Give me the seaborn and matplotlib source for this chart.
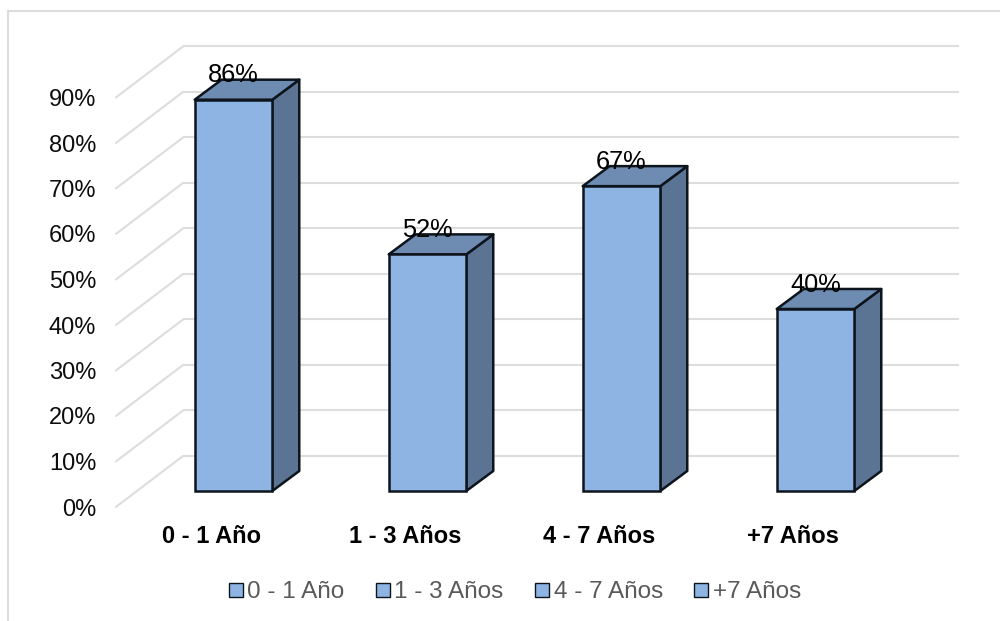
import matplotlib
matplotlib.use("Agg")
import matplotlib.pyplot as plt
import matplotlib.transforms as mtransforms
from matplotlib.lines import Line2D
from matplotlib.patches import Polygon
import pandas as pd
import seaborn as sns

categories = ["0 - 1 Año", "1 - 3 Años", "4 - 7 Años", "+7 Años"]
values = [86, 52, 67, 40]
ticks = [0, 10, 20, 30, 40, 50, 60, 70, 80, 90]
tick_labels = ["0%", "10%", "20%", "30%", "40%", "50%", "60%", "70%", "80%", "90%"]

FRONT = "#8DB4E2"
TOP = "#6E8CB2"
SIDE = "#5B7494"
EDGE = "#0D141C"
GRID = "#DDDDDD"
EDGE_LW = 1.8

# fake 3d depth, in data units (x = categories, y = percent)
BAR_DX, BAR_DY = 0.139, 4.4
BACK_DX, BACK_DY = 0.24, 7.7
WALL_DX, WALL_DY = -0.106, -3.5

sns.set_theme(style="white")
plt.rcParams["font.family"] = ["Liberation Sans", "DejaVu Sans"]

df = pd.DataFrame({"cat": categories, "val": values})

fig = plt.figure(figsize=(10, 6.21), dpi=100)
ax = fig.add_axes([0.1365, 130 / 621, 0.776, 455 / 621])

sns.barplot(
    data=df, x="cat", y="val", hue="cat", order=categories, hue_order=categories,
    palette=[FRONT] * 4, dodge=False, width=0.4, saturation=1,
    edgecolor=EDGE, linewidth=EDGE_LW, ax=ax, zorder=3, legend=True,
)
ax.set_xlim(-0.5, 3.5)
ax.set_ylim(0, 100)
ax.set_xlabel("")
ax.set_ylabel("")
sns.despine(ax=ax, left=True, bottom=True)

# back wall grid and the diagonals on the left wall
left, right = ax.get_xlim()
for t in ticks:
    ax.plot([left + BACK_DX, right + BACK_DX], [t + BACK_DY, t + BACK_DY],
            color=GRID, lw=1.5, clip_on=False, zorder=1, solid_capstyle="butt")
    ax.plot([left + WALL_DX, left + BACK_DX], [t + WALL_DY, t + BACK_DY],
            color=GRID, lw=1.5, clip_on=False, zorder=1)

# side and top faces, built from the bars seaborn drew
for container in ax.containers:
    for bar in container:
        x0, x1 = bar.get_x(), bar.get_x() + bar.get_width()
        h = bar.get_height()
        if pd.isna(h) or h == 0:
            continue
        bar.set_clip_on(False)
        ax.add_patch(Polygon(
            [(x1, 0), (x1 + BAR_DX, BAR_DY), (x1 + BAR_DX, h + BAR_DY), (x1, h)],
            facecolor=SIDE, edgecolor=EDGE, lw=EDGE_LW, clip_on=False, zorder=2,
            joinstyle="round"))
        ax.add_patch(Polygon(
            [(x0, h), (x0 + BAR_DX, h + BAR_DY), (x1 + BAR_DX, h + BAR_DY), (x1, h)],
            facecolor=TOP, edgecolor=EDGE, lw=EDGE_LW, clip_on=False, zorder=2,
            joinstyle="round"))
    ax.bar_label(container, fmt=lambda v: "" if pd.isna(v) or v == 0 else f"{v:.0f}%",
                 padding=9, fontsize=18.3, color="black", zorder=5)

ax.set_yticks(ticks)
ax.set_yticklabels(tick_labels, fontsize=17, color="#0D0D0D")
ax.tick_params(axis="y", length=0, pad=14.2)
# labels sit on the front edge of the wall, so shift them down
shift = mtransforms.Affine2D().translate(-20.5, -16)
for lab in ax.get_yticklabels():
    lab.set_transform(lab.get_transform() + shift)

ax.tick_params(axis="x", length=0, pad=24.5)
shift_x = mtransforms.Affine2D().translate(-22.5, 0)
for lab in ax.get_xticklabels():
    lab.set_fontsize(17)
    lab.set_fontweight("bold")
    lab.set_color("black")
    lab.set_transform(lab.get_transform() + shift_x)

leg = ax.legend(
    loc="center", bbox_to_anchor=(515 / 1000, 1 - 592.5 / 621),
    bbox_transform=fig.transFigure, ncol=4, frameon=False, fontsize=17.5,
    labelcolor="#595959", handlelength=0.55, handleheight=0.55,
    handletextpad=0.2, columnspacing=1.3, borderpad=0, title=None,
)
for handle in leg.get_patches():
    handle.set_linewidth(1)

# chart area border, only left and top land in the picture
fig.add_artist(Line2D([7.5 / 1000, 7.5 / 1000], [0, 1 - 10.5 / 621], color=GRID, lw=1.5))
fig.add_artist(Line2D([7.5 / 1000, 1], [1 - 10.5 / 621, 1 - 10.5 / 621], color=GRID, lw=1.5))

fig.savefig("out.png", dpi=100)
